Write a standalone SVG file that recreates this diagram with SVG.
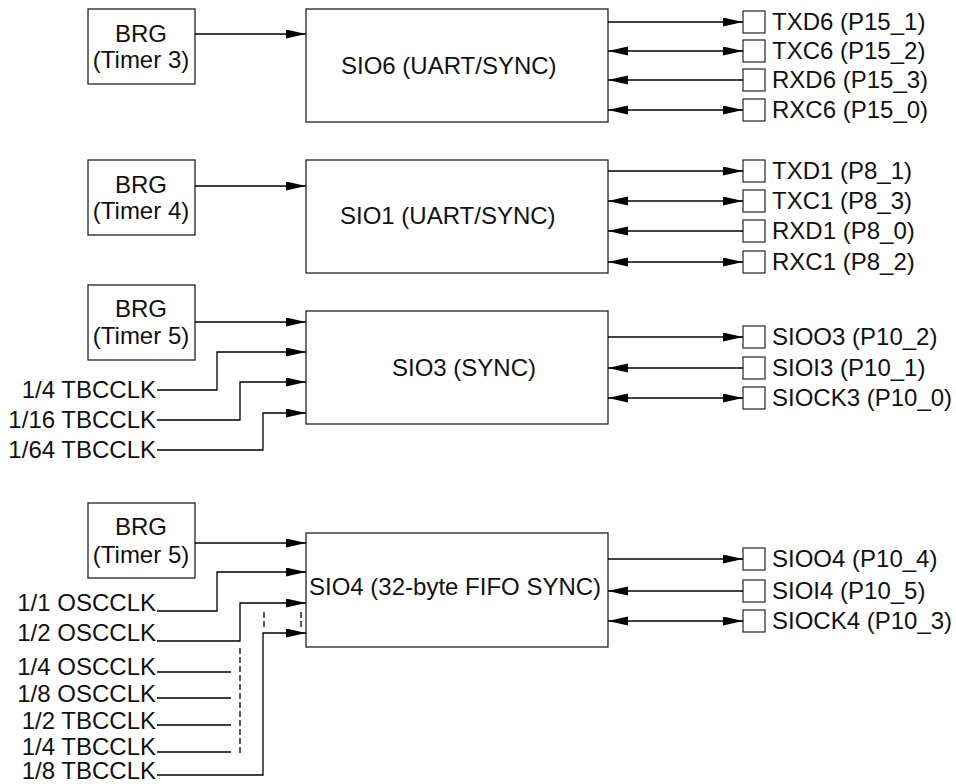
<svg xmlns="http://www.w3.org/2000/svg" width="956" height="784" viewBox="0 0 956 784">
<defs>
<marker id="ah" markerUnits="userSpaceOnUse" markerWidth="20" markerHeight="10" refX="20" refY="4.5" orient="auto-start-reverse">
<path d="M0,0 L20,4.5 L0,9 Z" fill="#000"/>
</marker>
<style>
.box{fill:#fff;stroke:#222;stroke-width:1.3}
.pin{fill:#fff;stroke:#222;stroke-width:1.2}
.t{font-family:"Liberation Sans",Arial,sans-serif;font-size:24px;fill:#111}
.c{text-anchor:middle}
.e{text-anchor:end}
.w{fill:none;stroke:#000;stroke-width:1.3}
.a{marker-end:url(#ah)}
.b{marker-start:url(#ah);marker-end:url(#ah)}
.d{fill:none;stroke:#000;stroke-width:1.3;stroke-dasharray:6 3}
</style>
</defs>
<rect width="956" height="784" fill="#fff"/>

<g id="brg3"><rect class="box" x="88" y="9" width="107" height="75"/><text class="t c" x="141" y="42">BRG</text><text class="t c" x="141" y="68">(Timer 3)</text></g>
<g id="sio6"><rect class="box" x="306" y="9" width="302" height="113"/><text class="t" x="341" y="74">SIO6 (UART/SYNC)</text></g>
<g id="brg4"><rect class="box" x="88" y="160" width="107" height="75"/><text class="t c" x="141" y="193">BRG</text><text class="t c" x="141" y="219">(Timer 4)</text></g>
<g id="sio1"><rect class="box" x="306" y="160" width="302" height="113"/><text class="t" x="340" y="224">SIO1 (UART/SYNC)</text></g>
<g id="brg5a"><rect class="box" x="88" y="285" width="107" height="75"/><text class="t c" x="141" y="317">BRG</text><text class="t c" x="141" y="344">(Timer 5)</text></g>
<g id="sio3"><rect class="box" x="306" y="311" width="302" height="113"/><text class="t" x="392" y="376">SIO3 (SYNC)</text></g>
<g id="brg5b"><rect class="box" x="88" y="503" width="107" height="75"/><text class="t c" x="141" y="535">BRG</text><text class="t c" x="141" y="563">(Timer 5)</text></g>
<g id="sio4"><rect class="box" x="306" y="533" width="302" height="114"/><text class="t" x="309" y="595">SIO4 (32-byte FIFO SYNC)</text></g>

<g id="pins6">
<rect class="pin" x="743" y="11" width="22" height="22"/><text class="t" x="772" y="30">TXD6 (P15_1)</text>
<rect class="pin" x="743" y="40" width="22" height="22"/><text class="t" x="772" y="59">TXC6 (P15_2)</text>
<rect class="pin" x="743" y="69" width="22" height="22"/><text class="t" x="772" y="88">RXD6 (P15_3)</text>
<rect class="pin" x="743" y="99" width="22" height="22"/><text class="t" x="772" y="118">RXC6 (P15_0)</text>
</g>
<g id="pins1">
<rect class="pin" x="743" y="160" width="22" height="22"/><text class="t" x="772" y="179">TXD1 (P8_1)</text>
<rect class="pin" x="743" y="190" width="22" height="22"/><text class="t" x="772" y="209">TXC1 (P8_3)</text>
<rect class="pin" x="743" y="220" width="22" height="22"/><text class="t" x="772" y="239">RXD1 (P8_0)</text>
<rect class="pin" x="743" y="251" width="22" height="22"/><text class="t" x="772" y="270">RXC1 (P8_2)</text>
</g>
<g id="pins3">
<rect class="pin" x="743" y="326" width="22" height="22"/><text class="t" x="772" y="345">SIOO3 (P10_2)</text>
<rect class="pin" x="743" y="357" width="22" height="22"/><text class="t" x="772" y="376">SIOI3 (P10_1)</text>
<rect class="pin" x="743" y="387" width="22" height="22"/><text class="t" x="772" y="406">SIOCK3 (P10_0)</text>
</g>
<g id="pins4">
<rect class="pin" x="743" y="548" width="22" height="22"/><text class="t" x="772" y="567">SIOO4 (P10_4)</text>
<rect class="pin" x="743" y="580" width="22" height="22"/><text class="t" x="772" y="599">SIOI4 (P10_5)</text>
<rect class="pin" x="743" y="610" width="22" height="22"/><text class="t" x="772" y="629">SIOCK4 (P10_3)</text>
</g>

<g id="clk3">
<text class="t e" x="156" y="398">1/4 TBCCLK</text>
<text class="t e" x="156" y="428">1/16 TBCCLK</text>
<text class="t e" x="156" y="458">1/64 TBCCLK</text>
</g>
<g id="clk4">
<text class="t e" x="156" y="611">1/1 OSCCLK</text>
<text class="t e" x="156" y="641">1/2 OSCCLK</text>
<text class="t e" x="156" y="675">1/4 OSCCLK</text>
<text class="t e" x="156" y="702">1/8 OSCCLK</text>
<text class="t e" x="156" y="729">1/2 TBCCLK</text>
<text class="t e" x="156" y="755">1/4 TBCCLK</text>
<text class="t e" x="156" y="779">1/8 TBCCLK</text>
</g>

<g id="connectors">
<path class="w a" d="M195,34 H306"/>
<path class="w a" d="M195,186 H306"/>
<path class="w a" d="M195,322 H306"/>
<path class="w a" d="M195,543 H306"/>

<path class="w a" d="M608,22 H743"/>
<path class="w b" d="M608,51 H743"/>
<path class="w a" d="M743,80 H608"/>
<path class="w b" d="M608,110 H743"/>

<path class="w a" d="M608,171 H743"/>
<path class="w b" d="M608,201 H743"/>
<path class="w a" d="M743,231 H608"/>
<path class="w b" d="M608,262 H743"/>

<path class="w a" d="M608,337 H743"/>
<path class="w a" d="M743,368 H608"/>
<path class="w b" d="M608,398 H743"/>

<path class="w a" d="M608,559 H743"/>
<path class="w a" d="M743,591 H608"/>
<path class="w b" d="M608,621 H743"/>

<path class="w a" d="M157,390 H217 V352 H306"/>
<path class="w a" d="M157,420 H240 V382 H306"/>
<path class="w a" d="M157,450 H263 V413 H306"/>

<path class="w a" d="M157,611 H217 V572 H306"/>
<path class="w a" d="M157,641 H240 V603 H306"/>
<path class="w a" d="M157,775 H263 V633 H306"/>
<path class="w" d="M157,672 H231 M157,698 H231 M157,725 H231 M157,752 H231"/>
<path class="d" d="M240,648 V753"/>
<path class="d" d="M264,612 V627 M301,612 V627"/>
</g>
</svg>
